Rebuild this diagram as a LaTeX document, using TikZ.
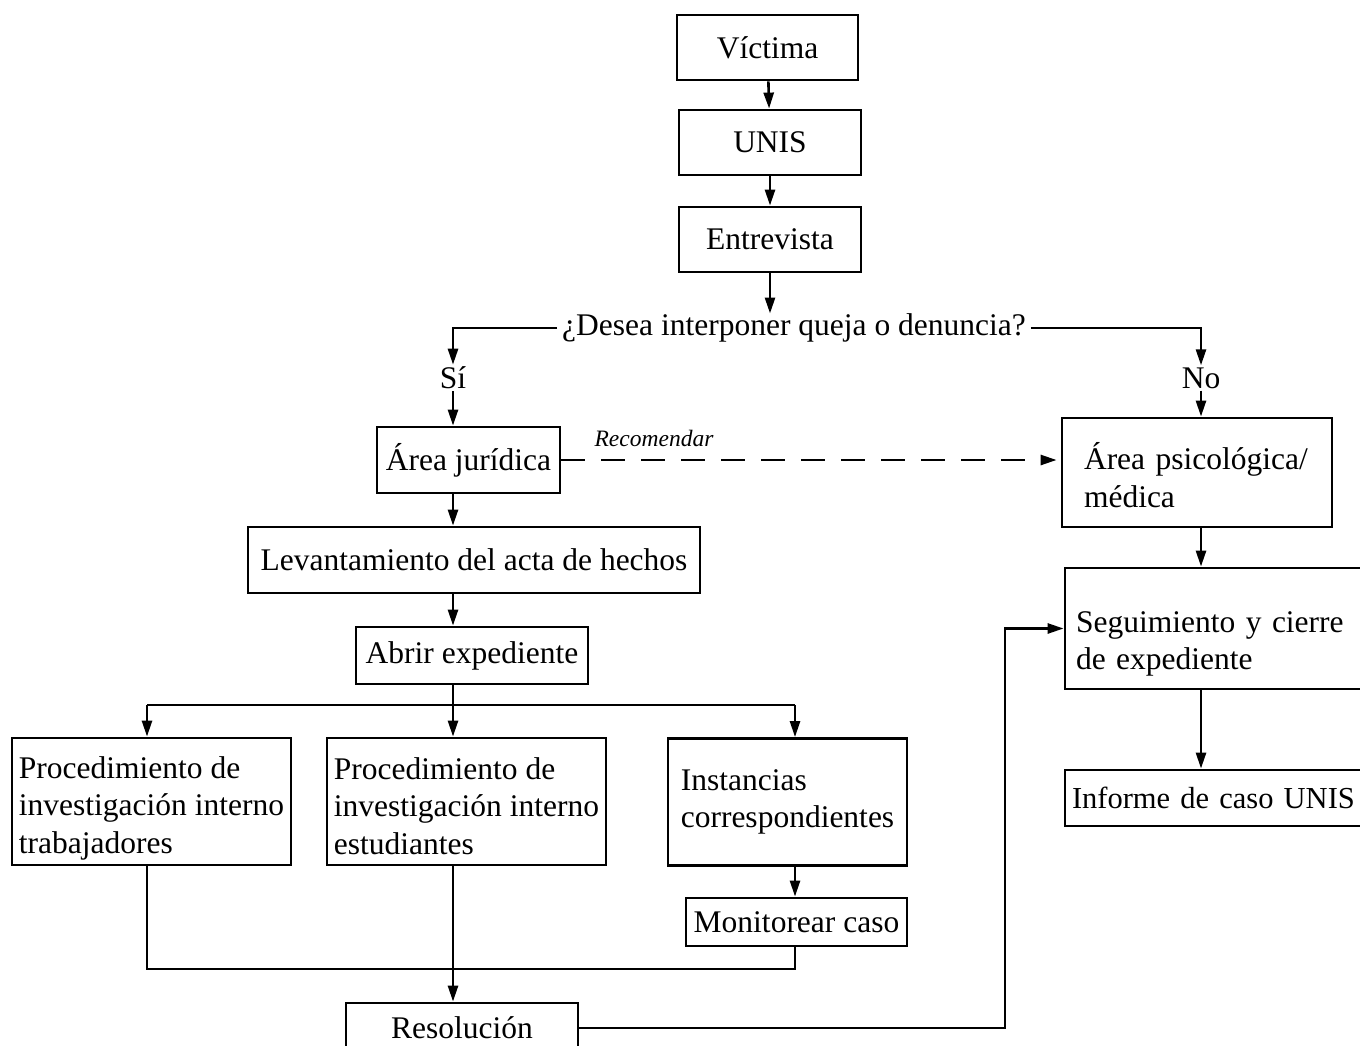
\documentclass[tikz,border=0pt]{standalone}
\usepackage{fontspec}
\setmainfont{Liberation Serif}
\usetikzlibrary{arrows.meta}
\newcommand{\boxfont}{\fontsize{31.5}{37.5}\selectfont}
\tikzset{
    box/.style={draw, line width=2.8pt, inner sep=0pt, font=\boxfont},
    lbox/.style={box, align=left},
    flow/.style={line width=2.6pt, -{Triangle[length=16pt,width=10pt]}},
    link/.style={line width=2.6pt},
}
\begin{document}
\begin{tikzpicture}[x=1pt,y=-1pt]
        \useasboundingbox (0,0) rectangle (1360,1046);
        \node[box, minimum width=181pt, minimum height=65pt] (victima) at (767.5,47.5) {Víctima};
        \node[box, minimum width=182pt, minimum height=65pt] (unis) at (770,142.5) {UNIS};
        \node[box, minimum width=182pt, minimum height=65pt] (entrevista) at (770,239.5) {Entrevista};
        \node[font=\boxfont, inner ysep=0pt, inner xsep=5pt] (pregunta) at (794,328) {¿Desea interponer queja o denuncia?};
        \node[font=\boxfont, inner sep=2pt] (si) at (453,378) {Sí};
        \node[font=\boxfont, inner sep=2pt] (no) at (1201,378) {No};
        \node[box, minimum width=183pt, minimum height=66pt] (juridica) at (468.5,460) {Área jurídica};
        \node[lbox, text width=226pt, inner xsep=22pt, minimum height=109pt, text height=32pt] (psico) at (1197,472.5) {Área psicológica/\\médica};
        \node[box, minimum width=452pt, minimum height=66pt] (acta) at (474,560) {Levantamiento del acta de hechos};
        \node[box, minimum width=232pt, minimum height=57pt] (abrir) at (472,655.5) {Abrir expediente};
        \node[lbox, text width=290pt, inner xsep=11pt, minimum height=121pt, text height=52pt] (seguimiento) at (1221,628.5) {Seguimiento y cierre\\de expediente};
        \node[lbox, text width=300pt, inner xsep=7pt, minimum height=56pt, font=\fontsize{30.5}{37.5}\selectfont] (informe) at (1222,798) {Informe de caso UNIS};
        \node[lbox, minimum width=279pt, minimum height=127pt, text height=110pt] (trabajadores) at (151.5,801.5) {Procedimiento de\\investigación interno\\trabajadores};
        \node[lbox, minimum width=279pt, minimum height=127pt, text height=106pt] (estudiantes) at (466.5,801.5) {Procedimiento de\\investigación interno\\estudiantes};
        \node[lbox, minimum width=239pt, minimum height=127pt] (instancias) at (787.5,802) {Instancias\\correspondientes};
        \node[box, minimum width=221pt, minimum height=48pt] (monitorear) at (796.5,922) {Monitorear caso};
        \node[box, minimum width=232pt, minimum height=50pt] (resolucion) at (462,1028) {Resolución};
        \node[font=\fontsize{23.5}{28}\selectfont\itshape, inner sep=0pt] (recomendar) at (654,438) {Recomendar};
        \coordinate (eje) at (453,705);
        \coordinate (izq) at (147,705);
        \coordinate (der) at (795,705);
        \coordinate (cierre) at (147,969);
        \coordinate (giro) at (1005,0);
        \draw[flow] (victima) -- (unis);
        \draw[flow] (unis) -- (entrevista);
        \draw[flow] (entrevista) -- (entrevista |- pregunta.north);
        \draw[flow] (pregunta.west) -| (si.north);
        \draw[flow] (pregunta.east) -| (no.north);
        \draw[flow] (si.south) -- (si.south |- juridica.north);
        \draw[flow] (no.south) -- (no.south |- psico.north);
        \draw[flow, dash pattern=on 24pt off 16pt] (juridica.east) -- ([xshift=-4pt]psico.west |- juridica.east);
        \draw[flow] (eje |- juridica.south) -- (eje |- acta.north);
        \draw[flow] (eje |- acta.south) -- (eje |- abrir.north);
        \draw[link] (eje |- abrir.south) -- (eje);
        \draw[link] (izq) -- (der);
        \draw[flow] (izq) -- (izq |- trabajadores.north);
        \draw[flow] (eje) -- (eje |- estudiantes.north);
        \draw[flow] (der) -- (der |- instancias.north);
        \draw[flow] (der |- instancias.south) -- (der |- monitorear.north);
        \draw[link] (izq |- trabajadores.south) -- (cierre) -| (der |- monitorear.south);
        \draw[flow] (eje |- estudiantes.south) -- (eje |- resolucion.north);
        \draw[flow] (resolucion.east) -- (resolucion.east -| giro) |- (seguimiento.west);
        \draw[flow] (no |- psico.south) -- (no |- seguimiento.north);
        \draw[flow] (no |- seguimiento.south) -- (no |- informe.north);
\end{tikzpicture}
\end{document}
